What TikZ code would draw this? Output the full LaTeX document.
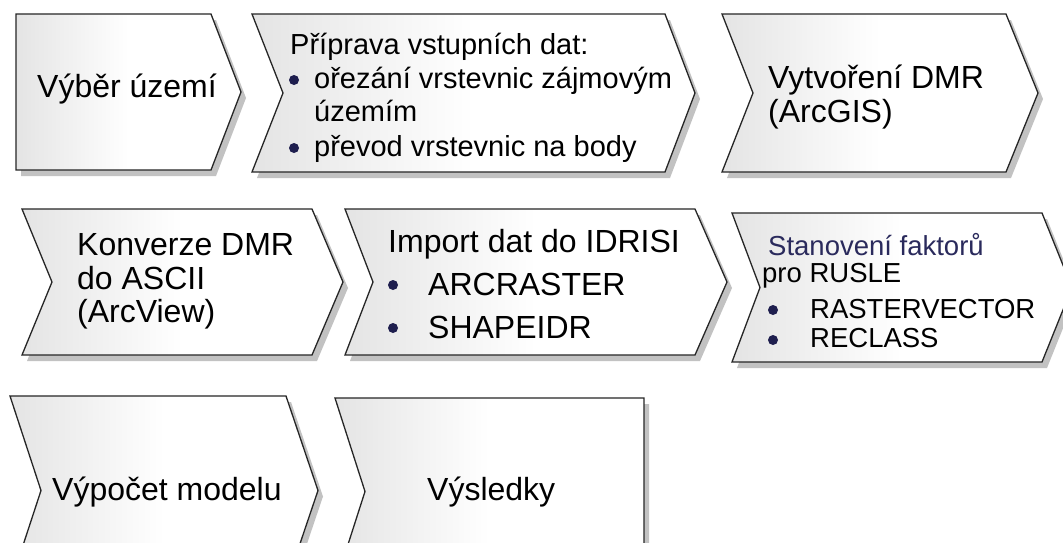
\documentclass[tikz,border=0pt]{standalone}
\usepackage{fontspec}
\setmainfont{Liberation Sans}
\definecolor{navy}{HTML}{2A2A5C}
\definecolor{bul}{HTML}{1E1E4E}
\definecolor{gleft}{HTML}{E4E4E4}
\pgfdeclarehorizontalshading{chevgrad}{100bp}{color(0bp)=(gleft); color(25bp)=(gleft); color(50bp)=(white); color(100bp)=(white)}
\tikzset{
  chev/.style={draw=black!85, line width=1.3pt, line join=miter, shading=chevgrad},
  shad/.style={fill=black!24, draw=none},
  bigtxt/.style={font=\fontsize{32}{36}\selectfont, inner sep=0pt, anchor=base west},
  smalltxt/.style={font=\fontsize{29}{32}\selectfont, inner sep=0pt, anchor=base west},
  tinytxt/.style={font=\fontsize{27.5}{30}\selectfont, inner sep=0pt, anchor=base west},
  bulletdot/.style={circle, fill=bul, inner sep=0pt, minimum size=10pt},
}
\newcommand{\mkchev}[6]{%
  \path[shad, shift={(5,6)}] (#1,#3) -- (#2,#3) -- ({#2+#6},{(#3+#4)/2}) -- (#2,#4) -- (#1,#4) -- ({#1+#5},{(#3+#4)/2}) -- cycle;
  \path[chev] (#1,#3) -- (#2,#3) -- ({#2+#6},{(#3+#4)/2}) -- (#2,#4) -- (#1,#4) -- ({#1+#5},{(#3+#4)/2}) -- cycle;}
\begin{document}
\begin{tikzpicture}[x=1pt,y=-1pt]
\useasboundingbox (0,0) rectangle (1063,542);
\clip (0,0) rectangle (1063,542);
\fill[white] (0,0) rectangle (1063,542);
% row 1
\mkchev{16}{211}{14}{170}{0}{30}
\mkchev{252}{665}{14}{172}{31}{30}
\mkchev{722}{1006}{14}{172}{31}{32}
% row 2
\mkchev{22}{312}{209}{355}{30}{31}
\mkchev{345}{695}{209}{355}{28}{32}
\mkchev{732}{1042}{213}{362}{28}{30}
% row 3
\mkchev{10}{286}{396}{585}{31}{32}
\mkchev{335}{644}{398}{585}{30}{0}
% texts row 1
\node[bigtxt] (t1) at (37,97) {Výběr území};
\node[smalltxt] (t2a) at (290,54) {Příprava vstupních dat:};
\node[bulletdot] (b2a) at (294,80) {};
\node[smalltxt] (t2b) at (314,88) {ořezání vrstevnic zájmovým};
\node[smalltxt] (t2c) at (314,121) {územím};
\node[bulletdot] (b2b) at (294,148) {};
\node[smalltxt] (t2d) at (314,156) {převod vrstevnic na body};
\node[bigtxt] (t3a) at (768,88) {Vytvoření DMR};
\node[bigtxt] (t3b) at (768,122) {(ArcGIS)};
% texts row 2
\node[bigtxt] (t4a) at (77,255) {Konverze DMR};
\node[bigtxt] (t4b) at (77,289) {do ASCII};
\node[bigtxt] (t4c) at (77,322) {(ArcView)};
\node[bigtxt] (t5a) at (388,252) {Import dat do IDRISI};
\node[bulletdot] (b5a) at (393,285) {};
\node[bigtxt] (t5b) at (428,295) {ARCRASTER};
\node[bulletdot] (b5b) at (393,328) {};
\node[bigtxt] (t5c) at (428,338) {SHAPEIDR};
\node[tinytxt, text=navy] (t6a) at (768,255) {Stanovení faktorů};
\node[tinytxt] (t6b) at (762,282) {pro RUSLE};
\node[bulletdot] (b6a) at (773,310) {};
\node[tinytxt] (t6c) at (810,318) {RASTERVECTOR};
\node[bulletdot] (b6b) at (773,340) {};
\node[tinytxt] (t6d) at (810,347) {RECLASS};
% texts row 3
\node[bigtxt] (t7) at (52,500) {Výpočet modelu};
\node[bigtxt] (t8) at (427,500) {Výsledky};
\end{tikzpicture}
\end{document}
